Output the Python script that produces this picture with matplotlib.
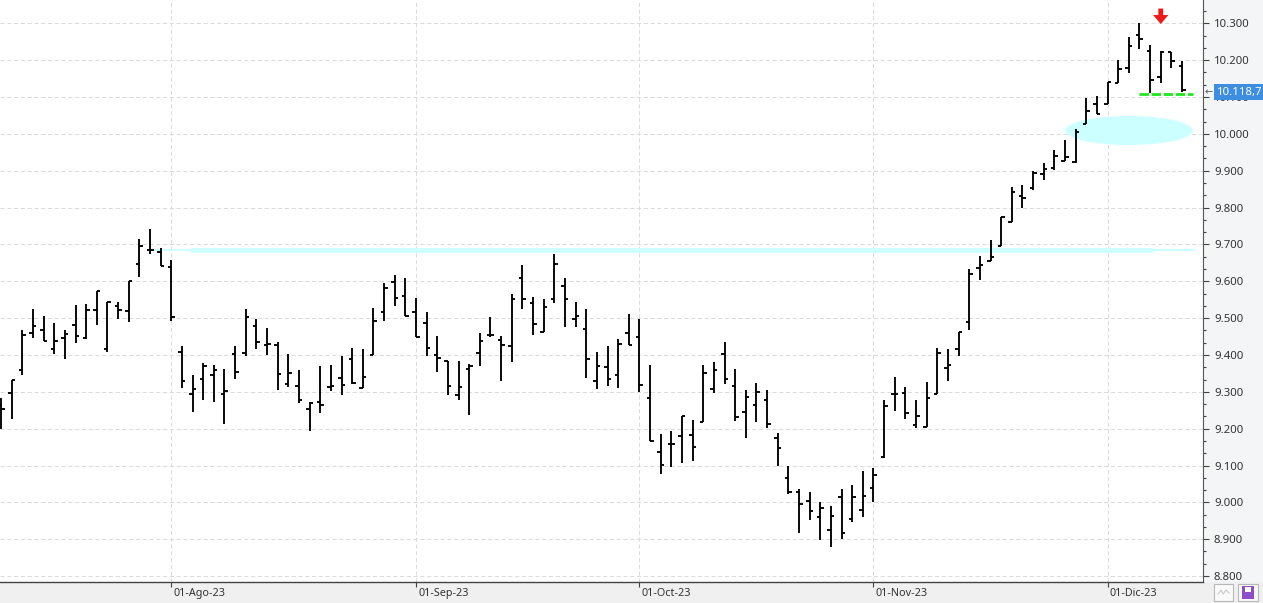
import matplotlib
matplotlib.use('Agg')
import numpy as np
import matplotlib.pyplot as plt
import matplotlib.transforms as mtransforms
from matplotlib.patches import Ellipse, Rectangle
from matplotlib.ticker import MultipleLocator, FuncFormatter, FixedLocator

# daily OHLC bars, 10-Jul-23 .. 12-Dic-23
opens = [9265, 9296, 9358, 9460, 9469, 9415, 9447, 9482, 9446, 9523,
         9417, 9534, 9518, 9648, 9684, 9679, 9639, 9409, 9293, 9336,
         9346, 9293, 9403, 9406, 9478, 9426, 9428, 9320, 9315, 9252,
         9271, 9312, 9337, 9388, 9309, 9399, 9516, 9597, 9559, 9516,
         9488, 9399, 9384, 9291, 9363, 9404, 9455, 9441, 9424, 9608,
         9541, 9461, 9551, 9586, 9497, 9470, 9328, 9367, 9345, 9460,
         9449, 9284, 9137, 9158, 9180, 9183, 9218, 9307, 9402, 9316,
         9244, 9264, 9278, 9175, 9066, 9028, 9003, 8961, 8926, 9014,
         8955, 8979, 9039, 9122, 9294, 9297, 9211, 9205, 9294, 9365,
         9416, 9489, 9635, 9655, 9696, 9762, 9831, 9853, 9892, 9907,
         9927, 9924, 10027, 10081, 10082, 10138, 10178, 10267, 10226, 10155,
         10223, 10185]
highs = [9283, 9332, 9467, 9524, 9507, 9486, 9469, 9535, 9539, 9573,
         9545, 9543, 9602, 9716, 9743, 9689, 9659, 9425, 9345, 9379,
         9372, 9363, 9423, 9524, 9497, 9472, 9436, 9403, 9358, 9272,
         9370, 9373, 9397, 9419, 9416, 9527, 9595, 9617, 9609, 9554,
         9516, 9451, 9384, 9384, 9375, 9459, 9503, 9451, 9565, 9644,
         9556, 9551, 9674, 9608, 9544, 9525, 9407, 9423, 9443, 9511,
         9497, 9372, 9186, 9194, 9234, 9224, 9372, 9381, 9435, 9362,
         9305, 9324, 9305, 9188, 9099, 9036, 9029, 9002, 8990, 9037,
         9048, 9086, 9094, 9278, 9340, 9313, 9278, 9327, 9419, 9416,
         9462, 9633, 9669, 9712, 9775, 9857, 9860, 9898, 9922, 9956,
         9984, 10014, 10098, 10103, 10142, 10201, 10264, 10300, 10241, 10226,
         10223, 10198]
lows = [9199, 9225, 9346, 9446, 9438, 9403, 9389, 9432, 9444, 9481,
        9408, 9497, 9489, 9611, 9675, 9642, 9492, 9310, 9245, 9278,
        9272, 9213, 9335, 9397, 9415, 9400, 9305, 9314, 9270, 9195,
        9242, 9303, 9292, 9322, 9309, 9399, 9493, 9534, 9507, 9450,
        9398, 9355, 9290, 9279, 9238, 9369, 9450, 9330, 9382, 9526,
        9455, 9461, 9542, 9477, 9477, 9338, 9308, 9315, 9311, 9427,
        9300, 9166, 9076, 9095, 9108, 9111, 9218, 9296, 9321, 9222,
        9174, 9219, 9201, 9100, 9022, 8918, 8951, 8898, 8878, 8901,
        8946, 8959, 9001, 9121, 9249, 9226, 9202, 9205, 9294, 9328,
        9398, 9468, 9603, 9655, 9696, 9762, 9800, 9847, 9874, 9902,
        9927, 9921, 10027, 10054, 10082, 10138, 10165, 10230, 10112, 10138,
        10178, 10114]
closes = [9253, 9332, 9455, 9479, 9439, 9439, 9456, 9452, 9521, 9573,
          9545, 9521, 9602, 9697, 9685, 9642, 9504, 9330, 9308, 9369,
          9360, 9303, 9355, 9504, 9436, 9429, 9349, 9352, 9279, 9270,
          9264, 9315, 9318, 9325, 9340, 9491, 9583, 9554, 9507, 9450,
          9419, 9393, 9316, 9313, 9371, 9438, 9455, 9426, 9551, 9551,
          9483, 9529, 9648, 9551, 9505, 9389, 9370, 9334, 9430, 9428,
          9319, 9166, 9102, 9158, 9234, 9151, 9351, 9359, 9335, 9231,
          9286, 9299, 9212, 9147, 9028, 8995, 8977, 8985, 8964, 8917,
          9014, 9017, 9075, 9261, 9294, 9242, 9235, 9283, 9405, 9372,
          9462, 9621, 9644, 9667, 9775, 9842, 9826, 9894, 9905, 9941,
          9936, 10004, 10063, 10055, 10142, 10177, 10239, 10257, 10147, 10223,
          10198, 10118.7]

month_idx = [16, 39, 60, 82, 104]
month_labels = ['01-Ago-23', '01-Sep-23', '01-Oct-23', '01-Nov-23', '01-Dic-23']

# drawn annotations (support line, target zone, stop level, signal)
support_level = 9684
zone_center = (106.0, 10009)
stop_level = 10107
signal_bar = 109

W, H = 1263, 603
plt.rcParams['font.family'] = ['Noto Sans', 'DejaVu Sans']

fig = plt.figure(figsize=(W / 100, H / 100), dpi=100, facecolor='#f0f0f0')
fig.patches.append(Rectangle((1203 / W, 21 / H), 60 / W, 582 / H, transform=fig.transFigure,
                             fc='#f4f5f7', ec='none', zorder=-1))
ax = fig.add_axes([0, 21 / H, 1203 / W, 582 / H])
ax.set_facecolor('white')

x = np.arange(len(closes))
tick = 0.33
ax.vlines(x, lows, highs, color='black', lw=1.35, zorder=3)
ax.hlines(opens, x - tick, x, color='black', lw=1.35, zorder=3)
ax.hlines(closes, x, x + tick, color='black', lw=1.35, zorder=3)

# cyan resistance line
cyan = '#ccffff'
ax.plot([14.3, 17.8], [support_level, support_level], color=cyan, lw=1.3, zorder=2, solid_capstyle='butt')
ax.plot([17.8, 108.3], [support_level, support_level], color=cyan, lw=3.4, zorder=2, solid_capstyle='butt')
ax.plot([108.3, 112.2], [support_level, support_level], color=cyan, lw=1.6, zorder=2, solid_capstyle='butt')
ax.add_patch(Ellipse(zone_center, 12.0, 79, fc=cyan, ec='none', zorder=2))

# green dashed stop
ax.plot([106.95, 112.05], [stop_level, stop_level], color='#22e622', lw=2.0,
        linestyle=(0, (3.4, 0.95)), dash_capstyle='butt', zorder=4)

# red arrow
ax.annotate('', xy=(signal_bar, 10298), xytext=(signal_bar, 10340),
            arrowprops=dict(arrowstyle='simple,head_length=0.65,head_width=1.1,tail_width=0.35',
                            fc='#ee1a1a', ec='none', shrinkA=0, shrinkB=0), zorder=5)

ax.set_xlim(-0.1, 112.97)
ax.set_ylim(8783.9, 10363.2)

# axes styling
for s in ['top', 'left']:
    ax.spines[s].set_visible(False)
ax.spines['right'].set_color('#555555')
ax.spines['bottom'].set_color('#444444')
ax.spines['right'].set_linewidth(0.8)
ax.spines['bottom'].set_linewidth(1.0)

ax.yaxis.tick_right()
ax.yaxis.set_major_locator(FixedLocator(np.arange(8800, 10301, 100)))
ax.yaxis.set_minor_locator(MultipleLocator(100 / 3))
ax.yaxis.set_major_formatter(FuncFormatter(lambda v, p: f'{int(round(v)):,}'.replace(',', '.')))
ax.tick_params(axis='y', which='major', length=4.3, width=0.8, color='#444444', pad=3.6,
               labelsize=8.2, labelcolor='#333333')
ax.tick_params(axis='y', which='minor', length=2.2, width=0.8, color='#444444')

ax.set_xticks(month_idx)
ax.set_xticklabels(month_labels, ha='left')
ax.tick_params(axis='x', length=3.6, width=0.8, color='#444444', pad=0.5,
               labelsize=7.8, labelcolor='#333333')
offset = mtransforms.ScaledTranslation(2 / 100, 0, fig.dpi_scale_trans)
for lbl in ax.get_xticklabels():
    lbl.set_transform(lbl.get_transform() + offset)

ax.grid(True, color='#dcdcdc', lw=0.75, linestyle=(0, (4, 2.5)), zorder=0)
ax.set_axisbelow(True)

# last price label
blend = mtransforms.blended_transform_factory(fig.transFigure, ax.transData)
down = mtransforms.ScaledTranslation(0, -2 / 100, fig.dpi_scale_trans)
ax.text(1217 / W, closes[-1], '10.118,7', transform=blend + down, va='center', ha='left',
        color='white', fontsize=8.2, clip_on=False, zorder=10,
        bbox=dict(boxstyle='square,pad=0.25', fc='#3d8ee0', ec='none'))
ax.text(1205 / W, closes[-1], '\u2190', transform=blend + down, va='center', ha='left',
        color='#555555', fontsize=7, clip_on=False, family='DejaVu Sans', zorder=10)

# small buttons bottom right
fig.patches.append(Rectangle((1214 / W, 2 / H), 19 / W, 17 / H, transform=fig.transFigure,
                             fc='#fafafa', ec='#b8b8b8', lw=0.8))
fig.lines.append(plt.Line2D([1218 / W, 1221 / W, 1223 / W, 1226 / W, 1229 / W],
                            [9 / H, 13 / H, 9 / H, 13 / H, 10 / H],
                            transform=fig.transFigure, color='#c8c8c8', lw=0.8))
fig.patches.append(Rectangle((1238 / W, 2 / H), 20 / W, 17 / H, transform=fig.transFigure,
                             fc='#fafafa', ec='#b8b8b8', lw=0.8))
fig.patches.append(Rectangle((1242 / W, 4 / H), 12 / W, 13 / H, transform=fig.transFigure,
                             fc='#8e4ec6', ec='none'))
fig.patches.append(Rectangle((1245 / W, 11 / H), 6 / W, 5 / H, transform=fig.transFigure,
                             fc='white', ec='none'))

fig.savefig('out.png', dpi=100, facecolor=fig.get_facecolor())
